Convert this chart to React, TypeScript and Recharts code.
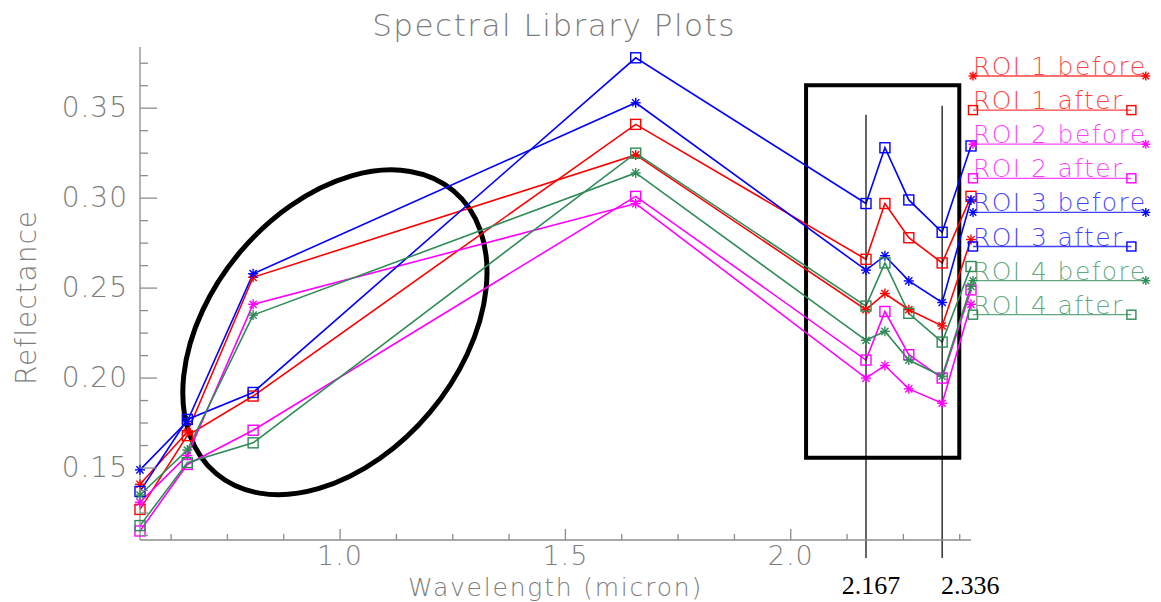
import React from "react";
import {
  LineChart,
  Line,
  XAxis,
  YAxis,
  Legend,
  ReferenceArea,
  ReferenceLine,
} from "recharts";

// ASTER VNIR + SWIR band centres (micron)
const wavelengths = [0.556, 0.661, 0.807, 1.656, 2.167, 2.209, 2.262, 2.336, 2.4];

const roi1Before = [0.141, 0.17, 0.256, 0.324, 0.238, 0.247, 0.238, 0.229, 0.277];
const roi1After = [0.127, 0.168, 0.19, 0.341, 0.266, 0.297, 0.278, 0.264, 0.301];
const roi2Before = [0.131, 0.157, 0.241, 0.297, 0.2, 0.207, 0.194, 0.186, 0.241];
const roi2After = [0.115, 0.152, 0.171, 0.301, 0.21, 0.237, 0.213, 0.2, 0.249];
const roi3Before = [0.149, 0.176, 0.258, 0.353, 0.26, 0.268, 0.254, 0.242, 0.299];
const roi3After = [0.137, 0.177, 0.192, 0.378, 0.297, 0.328, 0.299, 0.281, 0.329];
const roi4Before = [0.135, 0.16, 0.235, 0.314, 0.221, 0.226, 0.21, 0.201, 0.251];
const roi4After = [0.118, 0.153, 0.164, 0.325, 0.24, 0.264, 0.236, 0.22, 0.262];

const xTicks = [
  0.625, 0.75, 0.875, 1.0, 1.125, 1.25, 1.375, 1.5, 1.625, 1.75, 1.875, 2.0,
  2.125, 2.25, 2.375,
];
const xMajorTicks = [1.0, 1.5, 2.0];
const yTicks = [
  0.1125, 0.125, 0.1375, 0.15, 0.1625, 0.175, 0.1875, 0.2, 0.2125, 0.225,
  0.2375, 0.25, 0.2625, 0.275, 0.2875, 0.3, 0.3125, 0.325, 0.3375, 0.35,
  0.3625, 0.375,
];
const yMajorTicks = [0.15, 0.2, 0.25, 0.3, 0.35];

// highlighted bands and the outline boxes drawn over the plot
const markedBands = [2.167, 2.336];
const markedBandTops = [0.3463, 0.3513];
const markedBandBottom = 0.1;
const vnirOutline = { x1: 0.651, x2: 1.326, y1: 0.1352, y2: 0.3157 };
const swirOutline = { x1: 2.034, x2: 2.374, y1: 0.1557, y2: 0.3627 };

const RED = "#ff0000";
const MAGENTA = "#ff00ff";
const BLUE = "#0000ff";
const GREEN = "#2e8b57";
const AXIS = "#8c8c8c";
const TEXT = "#7d7d7d";
const FONT = "'DejaVu Sans', Verdana, sans-serif";

type MarkerKind = "star" | "square";

const series: {
  key: string;
  name: string;
  color: string;
  marker: MarkerKind;
  values: number[];
}[] = [
  { key: "roi1Before", name: "ROI 1 before", color: RED, marker: "star", values: roi1Before },
  { key: "roi1After", name: "ROI 1 after", color: RED, marker: "square", values: roi1After },
  { key: "roi2Before", name: "ROI 2 before", color: MAGENTA, marker: "star", values: roi2Before },
  { key: "roi2After", name: "ROI 2 after", color: MAGENTA, marker: "square", values: roi2After },
  { key: "roi3Before", name: "ROI 3 before", color: BLUE, marker: "star", values: roi3Before },
  { key: "roi3After", name: "ROI 3 after", color: BLUE, marker: "square", values: roi3After },
  { key: "roi4Before", name: "ROI 4 before", color: GREEN, marker: "star", values: roi4Before },
  { key: "roi4After", name: "ROI 4 after", color: GREEN, marker: "square", values: roi4After },
];

const rows = wavelengths.map((wl, i) => {
  const row: Record<string, number> = { wl };
  series.forEach((s) => {
    row[s.key] = s.values[i];
  });
  return row;
});

const isMajor = (v: number, majors: number[]) =>
  majors.some((m) => Math.abs(m - v) < 1e-6);

function Marker({
  kind,
  cx,
  cy,
  color,
  r = 5,
}: {
  kind: MarkerKind;
  cx: number;
  cy: number;
  color: string;
  r?: number;
}) {
  if (kind === "square") {
    return (
      <rect
        x={cx - r}
        y={cy - r}
        width={r * 2}
        height={r * 2}
        fill="none"
        stroke={color}
        strokeWidth={1.4}
      />
    );
  }
  const d = r * 0.72;
  return (
    <g stroke={color} strokeWidth={1.4}>
      <line x1={cx - r} y1={cy} x2={cx + r} y2={cy} />
      <line x1={cx} y1={cy - r} x2={cx} y2={cy + r} />
      <line x1={cx - d} y1={cy - d} x2={cx + d} y2={cy + d} />
      <line x1={cx - d} y1={cy + d} x2={cx + d} y2={cy - d} />
    </g>
  );
}

// IDL-style box axes: ticks point into the plot
function BottomTick({ x, y, payload }: any) {
  const major = isMajor(payload.value, xMajorTicks);
  return (
    <g>
      <line x1={x} x2={x} y1={y} y2={y - (major ? 11 : 6)} stroke={AXIS} strokeWidth={1.3} />
      {major && (
        <text
          x={x}
          y={y + 25}
          textAnchor="middle"
          fontSize={27}
          fontFamily={FONT}
          fontWeight={200}
          letterSpacing={1}
          fill={TEXT}
        >
          {payload.value.toFixed(1)}
        </text>
      )}
    </g>
  );
}

function TopTick({ x, y, payload }: any) {
  const major = isMajor(payload.value, xMajorTicks);
  return (
    <line x1={x} x2={x} y1={y} y2={y + (major ? 11 : 6)} stroke={AXIS} strokeWidth={1.3} />
  );
}

function LeftTick({ x, y, payload }: any) {
  const major = isMajor(payload.value, yMajorTicks);
  return (
    <g>
      <line x1={x} x2={x + (major ? 17 : 8)} y1={y} y2={y} stroke={AXIS} strokeWidth={1.3} />
      {major && (
        <text
          x={x - 12}
          y={y + 9}
          textAnchor="end"
          fontSize={28}
          fontFamily={FONT}
          fontWeight={200}
          letterSpacing={1}
          fill={TEXT}
        >
          {payload.value.toFixed(2)}
        </text>
      )}
    </g>
  );
}

function RightTick({ x, y, payload }: any) {
  const major = isMajor(payload.value, yMajorTicks);
  return (
    <line x1={x} x2={x - (major ? 17 : 8)} y1={y} y2={y} stroke={AXIS} strokeWidth={1.3} />
  );
}

function XTitle({ viewBox }: any) {
  const cx = viewBox.x + viewBox.width / 2;
  return (
    <text
      x={cx}
      y={viewBox.y + 56}
      textAnchor="middle"
      fontSize={25}
      fontFamily={FONT}
      fontWeight={200}
      letterSpacing={1.8}
      fill={TEXT}
    >
      Wavelength (micron)
    </text>
  );
}

function YTitle({ viewBox }: any) {
  const cy = viewBox.y + viewBox.height / 2 + 4;
  const bx = 36;
  return (
    <text
      x={bx}
      y={cy}
      transform={`rotate(-90 ${bx} ${cy})`}
      textAnchor="middle"
      fontSize={28}
      fontFamily={FONT}
      fontWeight={200}
      letterSpacing={1}
      fill={TEXT}
    >
      Reflectance
    </text>
  );
}

// ellipse tilted by TILT degrees, inscribed in the reference box
const TILT = 50;
function TiltedEllipse({ x, y, width, height }: any) {
  const cx = x + width / 2;
  const cy = y + height / 2;
  const t = (TILT * Math.PI) / 180;
  const c2 = Math.cos(t) ** 2;
  const s2 = Math.sin(t) ** 2;
  const w2 = (width / 2) ** 2;
  const h2 = (height / 2) ** 2;
  const det = c2 * c2 - s2 * s2;
  const rx = Math.sqrt(Math.abs((w2 * c2 - h2 * s2) / det));
  const ry = Math.sqrt(Math.abs((h2 * c2 - w2 * s2) / det));
  return (
    <ellipse
      cx={cx}
      cy={cy}
      rx={rx}
      ry={ry}
      transform={`rotate(${-TILT} ${cx} ${cy})`}
      fill="none"
      stroke="#000"
      strokeWidth={5}
    />
  );
}

function BandTag({ viewBox, text, dx }: any) {
  const bottom = viewBox.y + viewBox.height;
  return (
    <text
      x={viewBox.x + dx}
      y={bottom + 36}
      textAnchor="middle"
      fontSize={26}
      fontFamily="'Liberation Serif', 'Times New Roman', serif"
      fill="#000"
    >
      {text}
    </text>
  );
}
const bandTagDx = [5, 28];

// legend keeps the series order (before / after per ROI)
function RoiLegend({ payload }: any) {
  const items: any[] = payload ?? [];
  return (
    <svg width={195} height={290} style={{ display: "block" }}>
      {series.map((s, i) => {
        const entry = items.find((e) => e.dataKey === s.key);
        const color = entry?.color ?? s.color;
        const base = 26 + i * 34.1;
        const end = 7 + s.name.length * 14.4;
        return (
          <g key={s.key}>
            <text
              x={7}
              y={base - 1}
              fill={color}
              fillOpacity={0.75}
              fontSize={25}
              fontFamily={FONT}
              fontWeight={200}
              letterSpacing={1.4}
            >
              {entry?.value ?? s.name}
            </text>
            <line x1={7} x2={end} y1={base} y2={base} stroke={color} strokeOpacity={0.75} strokeWidth={1.3} />
            <Marker kind={s.marker} cx={7} cy={base} color={color} r={4.5} />
            <Marker kind={s.marker} cx={end} cy={base} color={color} r={4.5} />
          </g>
        );
      })}
    </svg>
  );
}

export default function App() {
  return (
    <div
      style={{
        position: "absolute",
        left: 0,
        top: 0,
        width: 1161,
        height: 602,
        background: "#fff",
      }}
    >
      <LineChart
        width={1161}
        height={602}
        data={rows}
        margin={{ top: 47, right: 190, bottom: 0, left: 0 }}
      >
        <XAxis
          dataKey="wl"
          type="number"
          domain={[0.556, 2.4]}
          ticks={xTicks}
          interval={0}
          height={62}
          tickSize={0}
          tickMargin={0}
          tickLine={false}
          axisLine={{ stroke: AXIS, strokeWidth: 1.3 }}
          tick={(p: any) => <BottomTick {...p} />}
          label={<XTitle />}
        />
        <XAxis
          xAxisId="top"
          orientation="top"
          dataKey="wl"
          type="number"
          domain={[0.556, 2.4]}
          ticks={xTicks}
          interval={0}
          height={0}
          tickSize={0}
          tickMargin={0}
          tickLine={false}
          axisLine={{ stroke: AXIS, strokeWidth: 1.3 }}
          tick={(p: any) => <TopTick {...p} />}
        />
        <YAxis
          type="number"
          domain={[0.11, 0.384]}
          ticks={yTicks}
          interval={0}
          width={140}
          tickSize={0}
          tickMargin={0}
          tickLine={false}
          axisLine={{ stroke: AXIS, strokeWidth: 1.3 }}
          tick={(p: any) => <LeftTick {...p} />}
          label={<YTitle />}
        />
        <YAxis
          yAxisId="right"
          orientation="right"
          type="number"
          domain={[0.11, 0.384]}
          ticks={yTicks}
          interval={0}
          width={0}
          tickSize={0}
          tickMargin={0}
          tickLine={false}
          axisLine={{ stroke: AXIS, strokeWidth: 1.3 }}
          tick={(p: any) => <RightTick {...p} />}
        />
        <Legend
          layout="vertical"
          align="center"
          verticalAlign="middle"
          wrapperStyle={{ left: 966, top: 50, width: 195, height: 290 }}
          content={<RoiLegend />}
        />
        {series.map((s) => (
          <Line
            key={s.key}
            dataKey={s.key}
            name={s.name}
            type="linear"
            stroke={s.color}
            strokeWidth={1.6}
            isAnimationActive={false}
            activeDot={false}
            dot={(p: any) => (
              <Marker
                key={`${s.key}-${p.index}`}
                kind={s.marker}
                cx={p.cx}
                cy={p.cy}
                color={s.color}
              />
            )}
          />
        ))}
        <ReferenceArea
          {...vnirOutline}
          ifOverflow="visible"
          shape={(p: any) => <TiltedEllipse {...p} />}
        />
        <ReferenceArea
          {...swirOutline}
          ifOverflow="visible"
          fill="none"
          fillOpacity={0}
          stroke="#000"
          strokeWidth={4}
        />
        {markedBands.map((b, i) => (
          <ReferenceLine
            key={b}
            segment={[
              { x: b, y: markedBandTops[i] },
              { x: b, y: markedBandBottom },
            ]}
            ifOverflow="visible"
            stroke="#000"
            strokeWidth={1.2}
            label={<BandTag text={b.toFixed(3)} dx={bandTagDx[i]} />}
          />
        ))}
      </LineChart>
      <svg
        width={1161}
        height={46}
        style={{ position: "absolute", left: 0, top: 0, pointerEvents: "none" }}
      >
        <text
          x={554}
          y={36}
          textAnchor="middle"
          fontSize={31}
          fontFamily={FONT}
          fontWeight={200}
          letterSpacing={1.5}
          fill={TEXT}
        >
          Spectral Library Plots
        </text>
      </svg>
    </div>
  );
}
